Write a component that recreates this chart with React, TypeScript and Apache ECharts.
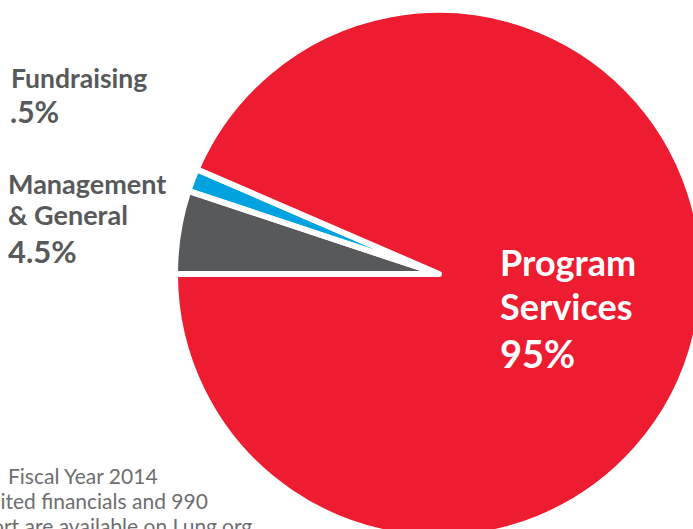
import React, { useEffect, useRef } from "react";
import * as echarts from "echarts";

const categories = ["Management & General", "Fundraising", "Program Services"];
// slice shares as drawn in the picture (angular extent of each wedge)
const sliceValues = [5.1, 1.4, 93.5];
const sliceColors = ["#58595b", "#00a3e0", "#ed1c30"];
const percentLabels = ["4.5%", ".5%", "95%"];
const footnoteLines = ["Fiscal Year 2014", "Audited financials and 990", "report are available on Lung.org"];

export default function App() {
  const ref = useRef<HTMLDivElement>(null);
  useEffect(() => {
    if (!ref.current) return;
    const chart = echarts.init(ref.current, null, { renderer: "svg" });
    const font = "Lato, 'Noto Sans', sans-serif";
    const gray = "#58595b";
    const t = (x: number, y: number, text: string, f: string, fill: string) => ({
      type: "text",
      x,
      y,
      z: 100,
      silent: true,
      style: { text, font: `${f} ${font}`, fill, textVerticalAlign: "top" },
    });
    chart.setOption({
      animation: false,
      backgroundColor: "#ffffff",
      series: [
        {
          type: "pie",
          center: [439, 274],
          radius: 264,
          startAngle: 180,
          clockwise: true,
          silent: true,
          z: 2,
          label: { show: false },
          labelLine: { show: false },
          itemStyle: { borderColor: "#ffffff", borderWidth: 6, borderJoin: "round" },
          data: categories.map((c, i) => ({
            name: c,
            value: sliceValues[i],
            itemStyle: { color: sliceColors[i] },
          })),
        },
      ],
      graphic: [
        t(11, 64, categories[1], "bold 26.5px", gray),
        t(10, 96, percentLabels[1], "bold 30px", gray),
        t(8, 170, "Management", "bold 27px", gray),
        t(8, 201, "& General", "bold 27px", gray),
        t(8, 235, percentLabels[0], "bold 31px", gray),
        t(500, 244, "Program", "bold 36px", "#ffffff"),
        t(500, 288, "Services", "bold 36px", "#ffffff"),
        t(500, 334, percentLabels[2], "bold 38px", "#ffffff"),
        t(8, 465, footnoteLines[0], "21px", "#6d6e71"),
        t(-37, 490, footnoteLines[1], "21px", "#6d6e71"),
        t(-38, 515, footnoteLines[2], "21px", "#6d6e71"),
      ],
    });
    return () => chart.dispose();
  }, []);
  return <div ref={ref} style={{ position: "absolute", left: 0, top: 0, width: 693, height: 529 }} />;
}
